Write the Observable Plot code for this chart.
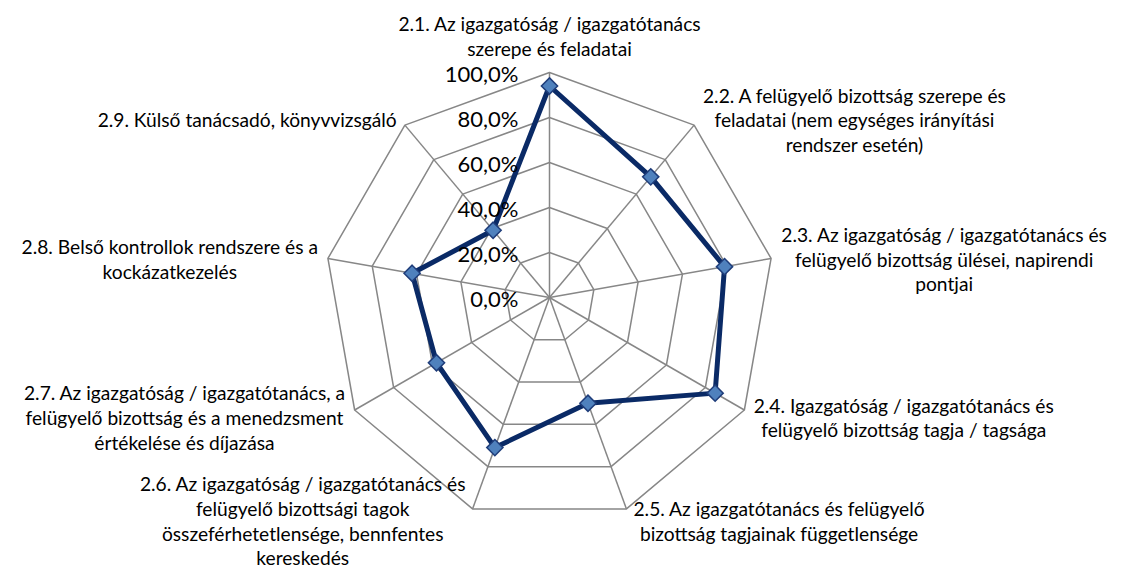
<!DOCTYPE html>
<html><head><meta charset="utf-8">
<script src="https://cdn.jsdelivr.net/npm/d3@7"></script>
<script src="https://cdn.jsdelivr.net/npm/@observablehq/plot@0.6"></script>
<style>body{margin:0;background:#fff} #chart{width:1125px;height:569px}</style>
</head><body><div id="chart"></div>
<script>
const categories = [
  "2.1. Az igazgatóság / igazgatótanács\nszerepe és feladatai",
  "2.2. A felügyelő bizottság szerepe és\nfeladatai (nem egységes irányítási\nrendszer esetén)",
  "2.3. Az igazgatóság / igazgatótanács és\nfelügyelő bizottság ülései, napirendi\npontjai",
  "2.4. Igazgatóság / igazgatótanács és\nfelügyelő bizottság tagja / tagsága",
  "2.5. Az igazgatótanács és felügyelő\nbizottság tagjainak függetlensége",
  "2.6. Az igazgatóság / igazgatótanács és\nfelügyelő bizottsági tagok\nösszeférhetetlensége, bennfentes\nkereskedés",
  "2.7. Az igazgatóság / igazgatótanács, a\nfelügyelő bizottság és a menedzsment\nértékelése és díjazása",
  "2.8. Belső kontrollok rendszere és a\nkockázatkezelés",
  "2.9. Külső tanácsadó, könyvvizsgáló"
];
const values = [0.94, 0.70, 0.79, 0.85, 0.50, 0.71, 0.58, 0.62, 0.39];
const ringLevels = [0, 0.2, 0.4, 0.6, 0.8, 1.0];
const ringLabels = ["0,0%", "20,0%", "40,0%", "60,0%", "80,0%", "100,0%"];

// layout
const W = 1125, H = 569, CX = 549, CY = 297, R = 225;
const FONT = "Lato, 'Open Sans', sans-serif";
const FS = 19.2, LH = 24.8;
const N = categories.length;
const ang = i => i * 2 * Math.PI / N;

const ringPts = ringLevels.filter(l => l > 0).flatMap(l =>
  categories.map((c, i) => ({level: l, x: l * Math.sin(ang(i)), y: l * Math.cos(ang(i))})));
const spokes = categories.map((c, i) => ({x: Math.sin(ang(i)), y: Math.cos(ang(i))}));
const series = values.map((v, i) => ({cat: categories[i], v, x: v * Math.sin(ang(i)), y: v * Math.cos(ang(i))}));

const ctx = document.createElement("canvas").getContext("2d");
ctx.font = `${FS}px Lato`;
const labelMarks = categories.map((c, i) => {
  const s = Math.sin(ang(i)), co = Math.cos(ang(i));
  const lines = c.split("\n");
  const w = Math.max(...lines.map(l => ctx.measureText(l).width));
  let dx, dy;
  if (Math.abs(s) < 0.1) { dx = 0; dy = -(12 + lines.length * LH / 2); }
  else { const gap = 5 + 5 * Math.abs(s); dx = Math.sign(s) * (gap + w / 2); dy = -10 * co + 2; }
  return Plot.text([c], {x: () => s, y: () => co, text: d => d, dx, dy,
    textAnchor: "middle", lineAnchor: "middle", lineHeight: LH / FS,
    fontSize: FS, fontFamily: FONT, fill: "#000"});
});

const chart = Plot.plot({
  width: W, height: H,
  marginTop: 0, marginRight: 0, marginBottom: 0, marginLeft: 0,
  x: {domain: [-CX / R, (W - CX) / R], range: [0, W], axis: null},
  y: {domain: [-(H - CY) / R, CY / R], range: [H, 0], axis: null},
  style: {background: "#fff"},
  marks: [
    Plot.link(spokes, {x1: () => 0, y1: () => 0, x2: "x", y2: "y", stroke: "#878787", strokeWidth: 1.5}),
    Plot.line(ringPts, {x: "x", y: "y", z: "level", curve: "linear-closed", stroke: "#878787", strokeWidth: 1.5}),
    Plot.line(series, {x: "x", y: "y", curve: "linear-closed", stroke: "#0a2a66", strokeWidth: 5, strokeLinejoin: "round"}),
    Plot.dot(series, {x: "x", y: "y", symbol: "diamond2", r: 7.3, fill: "#4f81bd", stroke: "#1f3d7a", strokeWidth: 1.5}),
    Plot.text(ringLevels, {x: () => 0, y: d => d, text: (d, i) => ringLabels[i], textAnchor: "end",
      dx: -31, dy: 2, fontSize: 22, fontFamily: FONT, fill: "#000"}),
    ...labelMarks
  ]
});
document.getElementById("chart").append(chart);
</script>
</body></html>
